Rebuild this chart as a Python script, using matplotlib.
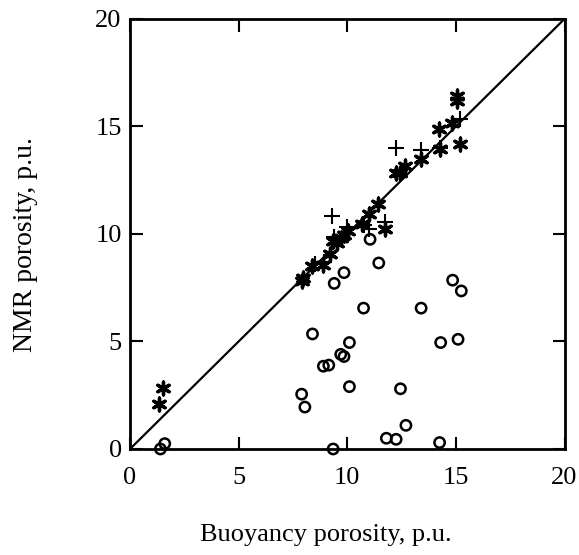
import matplotlib
matplotlib.use("Agg")
import matplotlib.pyplot as plt

## ## data (porosity, p.u.)
# open circles
circ_x = [1.4, 1.6, 9.35, 7.9, 8.05, 8.4, 8.9, 9.15, 9.7, 9.85, 10.1, 10.1,
          9.4, 9.85, 10.75, 11.05, 11.45, 11.8, 12.25, 12.45, 12.7, 13.4,
          14.25, 14.3, 14.85, 15.1, 15.25]
circ_y = [0.0, 0.25, 0.0, 2.55, 1.95, 5.35, 3.85, 3.9, 4.4, 4.3, 4.95, 2.9,
          7.7, 8.2, 6.55, 9.75, 8.65, 0.5, 0.45, 2.8, 1.1, 6.55,
          0.3, 4.95, 7.85, 5.1, 7.35]

# asterisks
star_x = [1.35, 1.5, 7.9, 7.95, 8.4, 8.9, 9.2, 9.35, 9.55, 9.7, 9.85, 10.05,
          10.7, 11.0, 11.4, 11.75, 12.25, 12.45, 12.65, 13.4, 14.2, 14.25,
          14.8, 15.05, 15.05, 15.2]
star_y = [2.1, 2.85, 7.8, 7.95, 8.5, 8.55, 9.05, 9.65, 9.6, 9.8, 9.95, 10.15,
          10.45, 10.95, 11.4, 10.25, 12.85, 12.85, 13.15, 13.5, 14.9, 13.95,
          15.15, 16.4, 16.2, 14.2]

# crosses
plus_x = [8.5, 8.95, 9.3, 9.4, 9.75, 10.0, 10.75, 11.0, 11.75, 12.25, 13.4, 14.25, 15.2]
plus_y = [8.6, 8.7, 10.85, 9.85, 9.7, 10.3, 10.4, 10.25, 10.55, 14.0, 13.9, 14.0, 15.35]

plt.rcParams['font.family'] = ['Liberation Serif', 'DejaVu Serif']

fig = plt.figure(figsize=(5.79, 5.55), dpi=100)
ax = fig.add_axes([0.2245, 0.191, 0.7505, 0.775])

ax.plot([0, 20], [0, 20], color="black", linewidth=1.6, zorder=1)
ax.scatter(circ_x, circ_y, s=55, facecolors="none", edgecolors="black",
           linewidths=1.8, clip_on=False, zorder=3)
ax.scatter(star_x, star_y, marker=(6, 2, 0), s=85, color="black",
           linewidths=2.4, clip_on=False, zorder=3)
ax.scatter(plus_x, plus_y, marker="+", s=120, color="black",
           linewidths=1.5, clip_on=False, zorder=3)

ax.set_xlim(0, 20)
ax.set_ylim(0, 20)
ax.set_xticks([0, 5, 10, 15, 20])
ax.set_yticks([0, 5, 10, 15, 20])
ax.tick_params(direction="in", length=9, width=1.5, labelsize=19,
               top=True, right=True, pad=6)
ax.tick_params(axis="x", pad=13)
for s in ax.spines.values():
    s.set_linewidth(2)

ax.set_xlabel("Buoyancy porosity, p.u.", fontsize=19)
ax.xaxis.set_label_coords(0.45, -0.175)
ax.set_ylabel("NMR porosity, p.u.", fontsize=20)
ax.yaxis.set_label_coords(-0.212, 0.475)

plt.savefig("out.png", dpi=100)
